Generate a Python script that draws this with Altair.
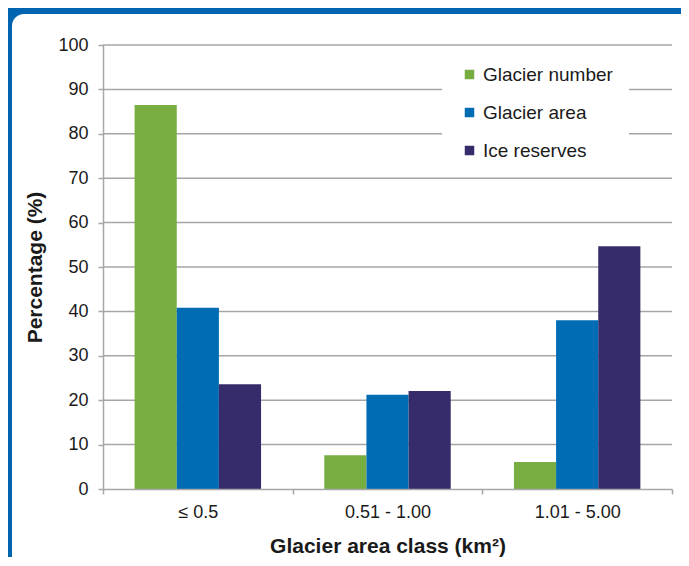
import altair as alt
import pandas as pd

# ---- data -------------------------------------------------------------
classes = ["≤ 0.5", "0.51 - 1.00", "1.01 - 5.00"]
series = ["Glacier number", "Glacier area", "Ice reserves"]
glacier_number = [86.5, 7.6, 6.1]
glacier_area = [40.8, 21.2, 38.0]
ice_reserves = [23.6, 22.1, 54.7]
colors = ["#78ad42", "#006cb4", "#372c6b"]
y_ticks = list(range(0, 101, 10))

rows = []
for i, c in enumerate(classes):
    for s, vals in zip(series, [glacier_number, glacier_area, ice_reserves]):
        rows.append({"cls": c, "series": s, "value": vals[i]})
df = pd.DataFrame(rows)
grid_df = pd.DataFrame({"value": y_ticks[1:]})

# ---- styling ----------------------------------------------------------
W, H = 569, 444
FONT = "Liberation Sans"
GRAY = "#a6a6a6"
TXT = "#1a1a1a"

y_scale = alt.Scale(domain=[0, 100], nice=False)
y_axis = alt.Axis(
    values=y_ticks, title="Percentage (%)", grid=False,
    domainColor=GRAY, domainWidth=1.5, tickColor=GRAY, tickWidth=1.5, tickSize=5,
    labelFont=FONT, labelFontSize=18, labelColor=TXT, labelPadding=10,
    titleFont=FONT, titleFontSize=21, titleFontWeight="bold", titleColor=TXT,
    titlePadding=12, zindex=1,
)
x_axis = alt.Axis(
    title="Glacier area class (km²)", labelAngle=0, tickBand="extent", grid=False,
    domainColor=GRAY, domainWidth=1.5, tickColor=GRAY, tickWidth=1.5, tickSize=5,
    labelFont=FONT, labelFontSize=18, labelColor=TXT, labelPadding=9,
    titleFont=FONT, titleFontSize=21, titleFontWeight="bold", titleColor=TXT,
    titlePadding=14, zindex=1,
)

panel = alt.Chart(alt.Data(values=[{}])).mark_rect(
    fill="white", cornerRadius=12
).encode(
    x=alt.value(-91), x2=alt.value(W + 60), y=alt.value(-31), y2=alt.value(H + 120)
)

grid = alt.Chart(grid_df).mark_rule(color=GRAY, strokeWidth=1.5).encode(
    y=alt.Y("value:Q", scale=y_scale, axis=y_axis)
)

bars = alt.Chart(df).mark_bar().encode(
    x=alt.X("cls:N", sort=classes, scale=alt.Scale(paddingInner=0, paddingOuter=0),
            axis=x_axis),
    xOffset=alt.XOffset("series:N", sort=series,
                        scale=alt.Scale(paddingInner=0, paddingOuter=0.75)),
    y=alt.Y("value:Q", scale=y_scale, axis=y_axis),
    color=alt.Color(
        "series:N", sort=series,
        scale=alt.Scale(domain=series, range=colors),
        legend=alt.Legend(
            title=None, orient="none", legendX=339, legendY=4,
            fillColor="white", padding=16, symbolType="square", symbolSize=90,
            symbolStrokeWidth=0, symbolOffset=2, labelFont=FONT,
            labelFontSize=19, labelColor=TXT, labelOffset=4, rowPadding=18,
            zindex=1,
        ),
    ),
)

chart = alt.layer(panel, grid, bars).properties(
    width=W, height=H, background="#0064b0",
    padding={"left": 95, "top": 37, "right": 9, "bottom": 68},
    autosize=alt.AutoSizeParams(type="none"),
).configure_view(stroke=None)

chart.save("out.html", embed_options={"renderer": "svg", "actions": False})
